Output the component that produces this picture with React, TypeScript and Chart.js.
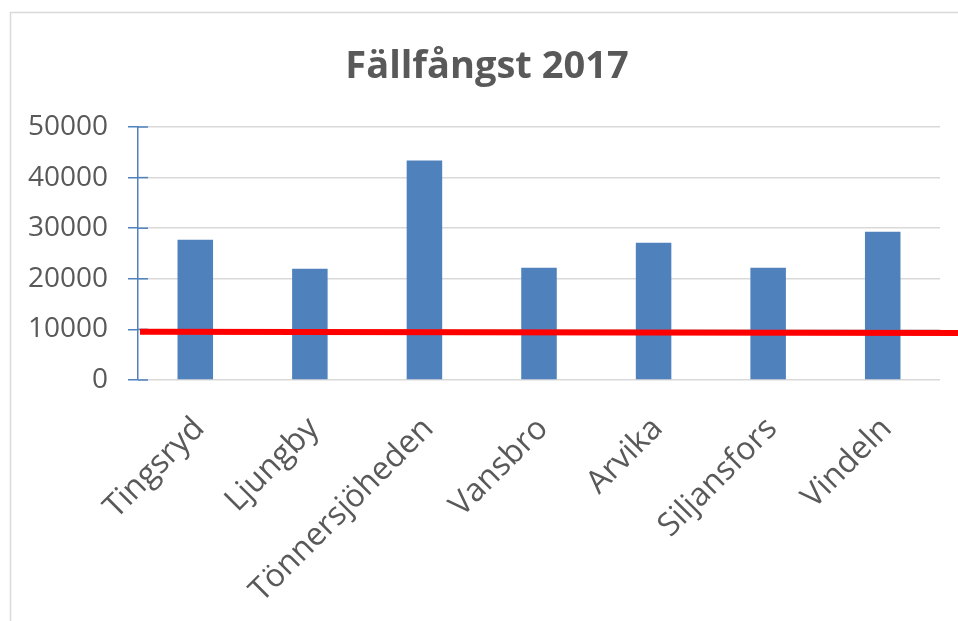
import React, { useEffect, useRef } from "react";
import { Chart, registerables } from "chart.js";

Chart.register(...registerables);

const titleText = "Fällfångst 2017";
const categories = ["Tingsryd", "Ljungby", "Tönnersjöheden", "Vansbro", "Arvika", "Siljansfors", "Vindeln"];
const catchValues = [27700, 22000, 43400, 22200, 27100, 22200, 29300];
const yTickValues = [0, 10000, 20000, 30000, 40000, 50000];
// red reference line: value at its left start, value at the right edge of the picture
const thresholdLine = [9560, 9300];

const BLUE = "#4F81BD";
const TEXT = "#595959";
const GRID = "#d9d9d9";
const FONT = "'Open Sans', sans-serif";

const decorPlugin = {
  id: "decor",
  beforeDraw(chart: any) {
    const ctx = chart.ctx;
    ctx.save();
    ctx.fillStyle = "#ffffff";
    ctx.fillRect(0, 0, chart.width, chart.height);
    ctx.strokeStyle = GRID;
    ctx.lineWidth = 1.5;
    ctx.beginPath();
    ctx.moveTo(10.5, chart.height);
    ctx.lineTo(10.5, 12.5);
    ctx.lineTo(chart.width, 12.5);
    ctx.stroke();
    // chart title (centred on the full Excel chart frame, which runs past the picture)
    ctx.fillStyle = TEXT;
    ctx.font = `bold 38px ${FONT}`;
    ctx.textAlign = "center";
    ctx.textBaseline = "alphabetic";
    ctx.fillText(titleText, 487, 78);
    ctx.restore();
  },
  afterDatasetsDraw(chart: any) {
    const ctx = chart.ctx;
    const y = chart.scales.y;
    const area = chart.chartArea;
    ctx.save();
    ctx.strokeStyle = BLUE;
    ctx.lineWidth = 1.5;
    yTickValues.forEach((v) => {
      const p = y.getPixelForValue(v);
      ctx.beginPath();
      ctx.moveTo(area.left, p);
      ctx.lineTo(area.left + 10, p);
      ctx.stroke();
    });
    ctx.strokeStyle = "#FF0000";
    ctx.lineWidth = 6;
    ctx.beginPath();
    ctx.moveTo(area.left + 2, y.getPixelForValue(thresholdLine[0]));
    ctx.lineTo(chart.width, y.getPixelForValue(thresholdLine[1]));
    ctx.stroke();
    ctx.restore();
  },
};

export default function App() {
  const ref = useRef<HTMLCanvasElement | null>(null);

  useEffect(() => {
    if (!ref.current) return;
    const chart = new Chart(ref.current, {
      type: "bar",
      data: {
        labels: categories,
        datasets: [
          {
            label: "Fällfångst",
            data: catchValues,
            backgroundColor: BLUE,
            borderWidth: 0,
            categoryPercentage: 1,
            barPercentage: 0.31,
          },
        ],
      },
      options: {
        responsive: false,
        animation: false,
        layout: { padding: { left: 0, right: 18, top: 127, bottom: 0 } },
        plugins: {
          legend: { display: false },
          tooltip: { enabled: false },
          title: { display: false },
        },
        scales: {
          x: {
            grid: { display: false, drawTicks: false },
            border: { display: false },
            ticks: {
              autoSkip: false,
              minRotation: 45,
              maxRotation: 45,
              padding: 30,
              labelOffset: 4,
              color: TEXT,
              font: { family: FONT, size: 32 },
            },
            afterFit(scale: any) {
              scale.height = 241;
            },
          },
          y: {
            min: 0,
            max: 50000,
            afterBuildTicks(scale: any) {
              scale.ticks = yTickValues.map((v) => ({ value: v }));
            },
            grid: {
              color: GRID,
              lineWidth: 1.5,
              tickColor: BLUE,
              tickLength: 10,
            },
            border: { color: BLUE, width: 1.5 },
            ticks: {
              padding: 20,
              color: TEXT,
              font: { family: FONT, size: 28 },
              callback: (v: any) => String(v),
            },
            afterFit(scale: any) {
              scale.width = 138;
            },
          },
        },
      },
      plugins: [decorPlugin],
    });
    return () => chart.destroy();
  }, []);

  return (
    <div style={{ position: "fixed", left: 0, top: 0, width: 958, height: 621, background: "#fff" }}>
      <canvas ref={ref} width={958} height={621} style={{ display: "block" }} />
    </div>
  );
}
